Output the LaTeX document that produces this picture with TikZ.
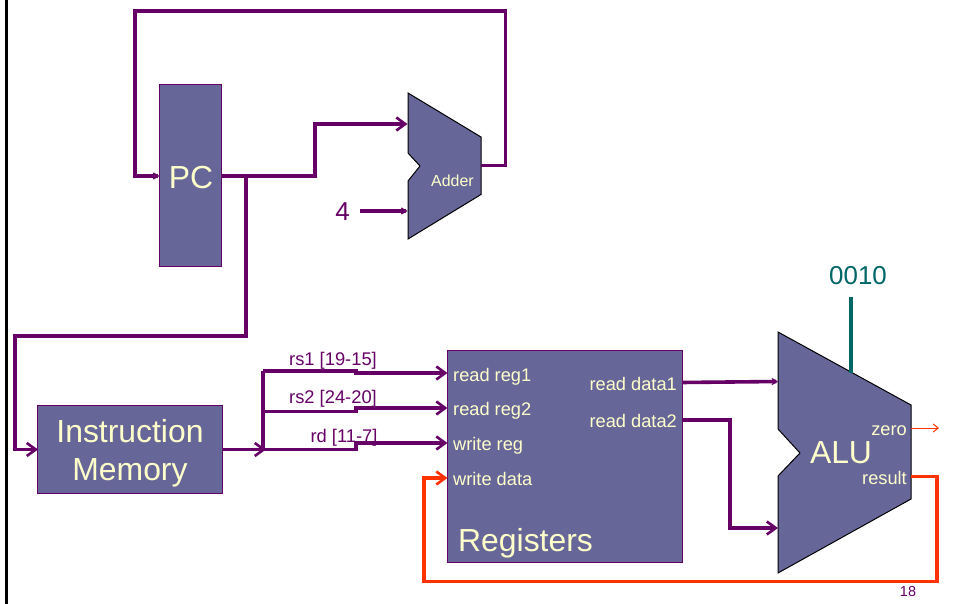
\documentclass[tikz,border=0pt]{standalone}
\usepackage{fontspec}
\setmainfont{Liberation Sans}
\usetikzlibrary{arrows.meta}
\definecolor{boxfill}{HTML}{666699}
\definecolor{wirepurple}{HTML}{660066}
\definecolor{wireorange}{HTML}{FF3300}
\definecolor{wireteal}{HTML}{006666}
\definecolor{cream}{HTML}{FFFFCC}
\tikzset{
  x=1bp,y=-1bp,
  blockbox/.style={draw=wirepurple,fill=boxfill,line width=1bp,inner sep=0pt},
  bigname/.style={text=cream,inner sep=0pt,font=\fontsize{32}{38}\selectfont,align=center},
  muxshape/.style={draw=black,fill=boxfill,line width=1bp,line join=miter},
  wire/.style={draw=wirepurple,line width=3.6bp,line join=miter},
  redwire/.style={draw=wireorange,line width=3.8bp,line join=miter},
  bigtip/.style={-{Straight Barb[length=9bp,width=13bp,line width=2.6bp]}},
  smalltip/.style={-{Straight Barb[length=5bp,width=6bp,line width=1.2bp]}},
  inlabel/.style={text=cream,inner sep=0pt,text height=13bp,text depth=0pt,font=\fontsize{18.3}{21}\selectfont},
  wirelabel/.style={text=wirepurple,inner sep=0pt,text height=13bp,text depth=0pt,font=\fontsize{18.4}{21}\selectfont},
}
\begin{document}
\begin{tikzpicture}
\useasboundingbox (0,0) rectangle (955,604);
\fill[white] (0,0) rectangle (955,604);
\fill[black] (5,0) rectangle (8,604);
% blocks
\node[blockbox,minimum width=62bp,minimum height=181bp] (pc) at (190.5,175.5) {};
\node[bigname] (pclabel) at (191,177.5) {PC};
\node[blockbox,minimum width=184bp,minimum height=88bp] (imem) at (130,449) {};
\node[bigname] (imemlabel) at (130,453.5) {Instruction\\Memory};
\node[blockbox,minimum width=234.5bp,minimum height=211bp] (regs) at (564.75,456.5) {};
% adder
\draw[muxshape] (408,93) coordinate (addA) -- (481,137) -- (481,194.5) -- (408,239) coordinate (addB) -- (408,181) -- (420,166) -- (408,153) -- cycle;
\node[inlabel,text height=11.5bp,font=\fontsize{16}{19}\selectfont] (addlabel) at (452.5,181) {Adder};
% ALU
\draw[muxshape] (778,332) -- (911,405) -- (911,499) -- (778,573) -- (778,476) -- (800,453) -- (778,429) -- cycle;
\node[bigname] (alulabel) at (841,452.5) {ALU};
\node[inlabel,anchor=east] (zero) at (907,429) {zero};
\node[inlabel,anchor=east] (result) at (907,478) {result};
% register labels
\node[inlabel,anchor=west] (rr1) at (453,375) {read reg1};
\node[inlabel,anchor=west] (rr2) at (453,409) {read reg2};
\node[inlabel,anchor=west] (wr) at (453,444) {write reg};
\node[inlabel,anchor=west] (wd) at (453,479) {write data};
\node[inlabel,anchor=east] (rd1) at (677,384) {read data1};
\node[inlabel,anchor=east] (rd2) at (677,421) {read data2};
\node[bigname,anchor=west] (regname) at (458,543) {Registers};
% ports
\coordinate (addOut) at (481,165.5);
\coordinate (addIn1) at (407.5,124);
\coordinate (addIn2) at (407.5,211);
\coordinate (four) at (360,211);
\coordinate (pcIn) at (159.5,176);
\coordinate (pcOut) at (221.5,176);
\coordinate (imIn) at (38,449.5);
\coordinate (imOut) at (222,449.5);
\coordinate (rr1in) at (447.5,373);
\coordinate (rr2in) at (447.5,408);
\coordinate (wrin) at (447.5,443);
\coordinate (wdin) at (447.5,478);
\coordinate (rd1out) at (682,382.5);
\coordinate (rd2out) at (682,420);
\coordinate (aluIn1) at (778,381.5);
\coordinate (aluIn2) at (778,528);
\coordinate (zeroOut) at (911,428);
\coordinate (zeroEnd) at (939,428);
\coordinate (resOut) at (911,476.5);
\coordinate (aluTop) at (851,373);
\coordinate (aluCtl) at (851,297);
% wires
\draw[wire,smalltip] (addOut) -- (505.5,165.5) -- (505.5,11) -- (135,11) -- (135,176) -- (pcIn);
\draw[wire,bigtip] (pcOut) -- (315,176) -- (315,124) -- (addIn1);
\draw[wire,bigtip] (246,176) -- (246,336) -- (15,336) -- (15,449.5) -- (imIn);
\draw[wire,smalltip] (four) -- (addIn2);
\draw[wire,bigtip] (imOut) -- (266,449.5);
\draw[wire] (263,449.5) -- (263,371);
\draw[wire,bigtip] (263,371) -- (356,371) -- (356,373) -- (rr1in);
\draw[wire,bigtip] (263,411.5) -- (356,411.5) -- (356,408) -- (rr2in);
\draw[wire,bigtip] (263,449.5) -- (356,449.5) -- (356,443) -- (wrin);
\draw[wire,smalltip] (rd1out) -- (aluIn1);
\draw[wire,bigtip] (rd2out) -- (730,420) -- (730,528) -- (aluIn2);
\draw[redwire,bigtip] (resOut) -- (937,476.5) -- (937,581.5) -- (424,581.5) -- (424,478) -- (wdin);
\draw[draw=wireorange,line width=1bp,-{Straight Barb[length=5bp,width=8bp,line width=1bp]}] (zeroOut) -- (zeroEnd);
\draw[draw=wireteal,line width=3.6bp] (aluCtl) -- (aluTop);
% wire labels
\node[wirelabel] (l1) at (333,358.5) {rs1 [19-15]};
\node[wirelabel] (l2) at (333,397) {rs2 [24-20]};
\node[wirelabel] (l3) at (344,435.5) {rd [11-7]};
\node[text=wirepurple,inner sep=0pt,font=\fontsize{26}{30}\selectfont] (fourlabel) at (342.5,212) {4};
\node[text=wireteal,inner sep=0pt,font=\fontsize{26}{30}\selectfont] (ctl) at (858,275.5) {0010};
\node[text=wirepurple,inner sep=0pt,font=\fontsize{14.5}{17}\selectfont] (pagenum) at (908,592) {18};
\end{tikzpicture}
\end{document}
